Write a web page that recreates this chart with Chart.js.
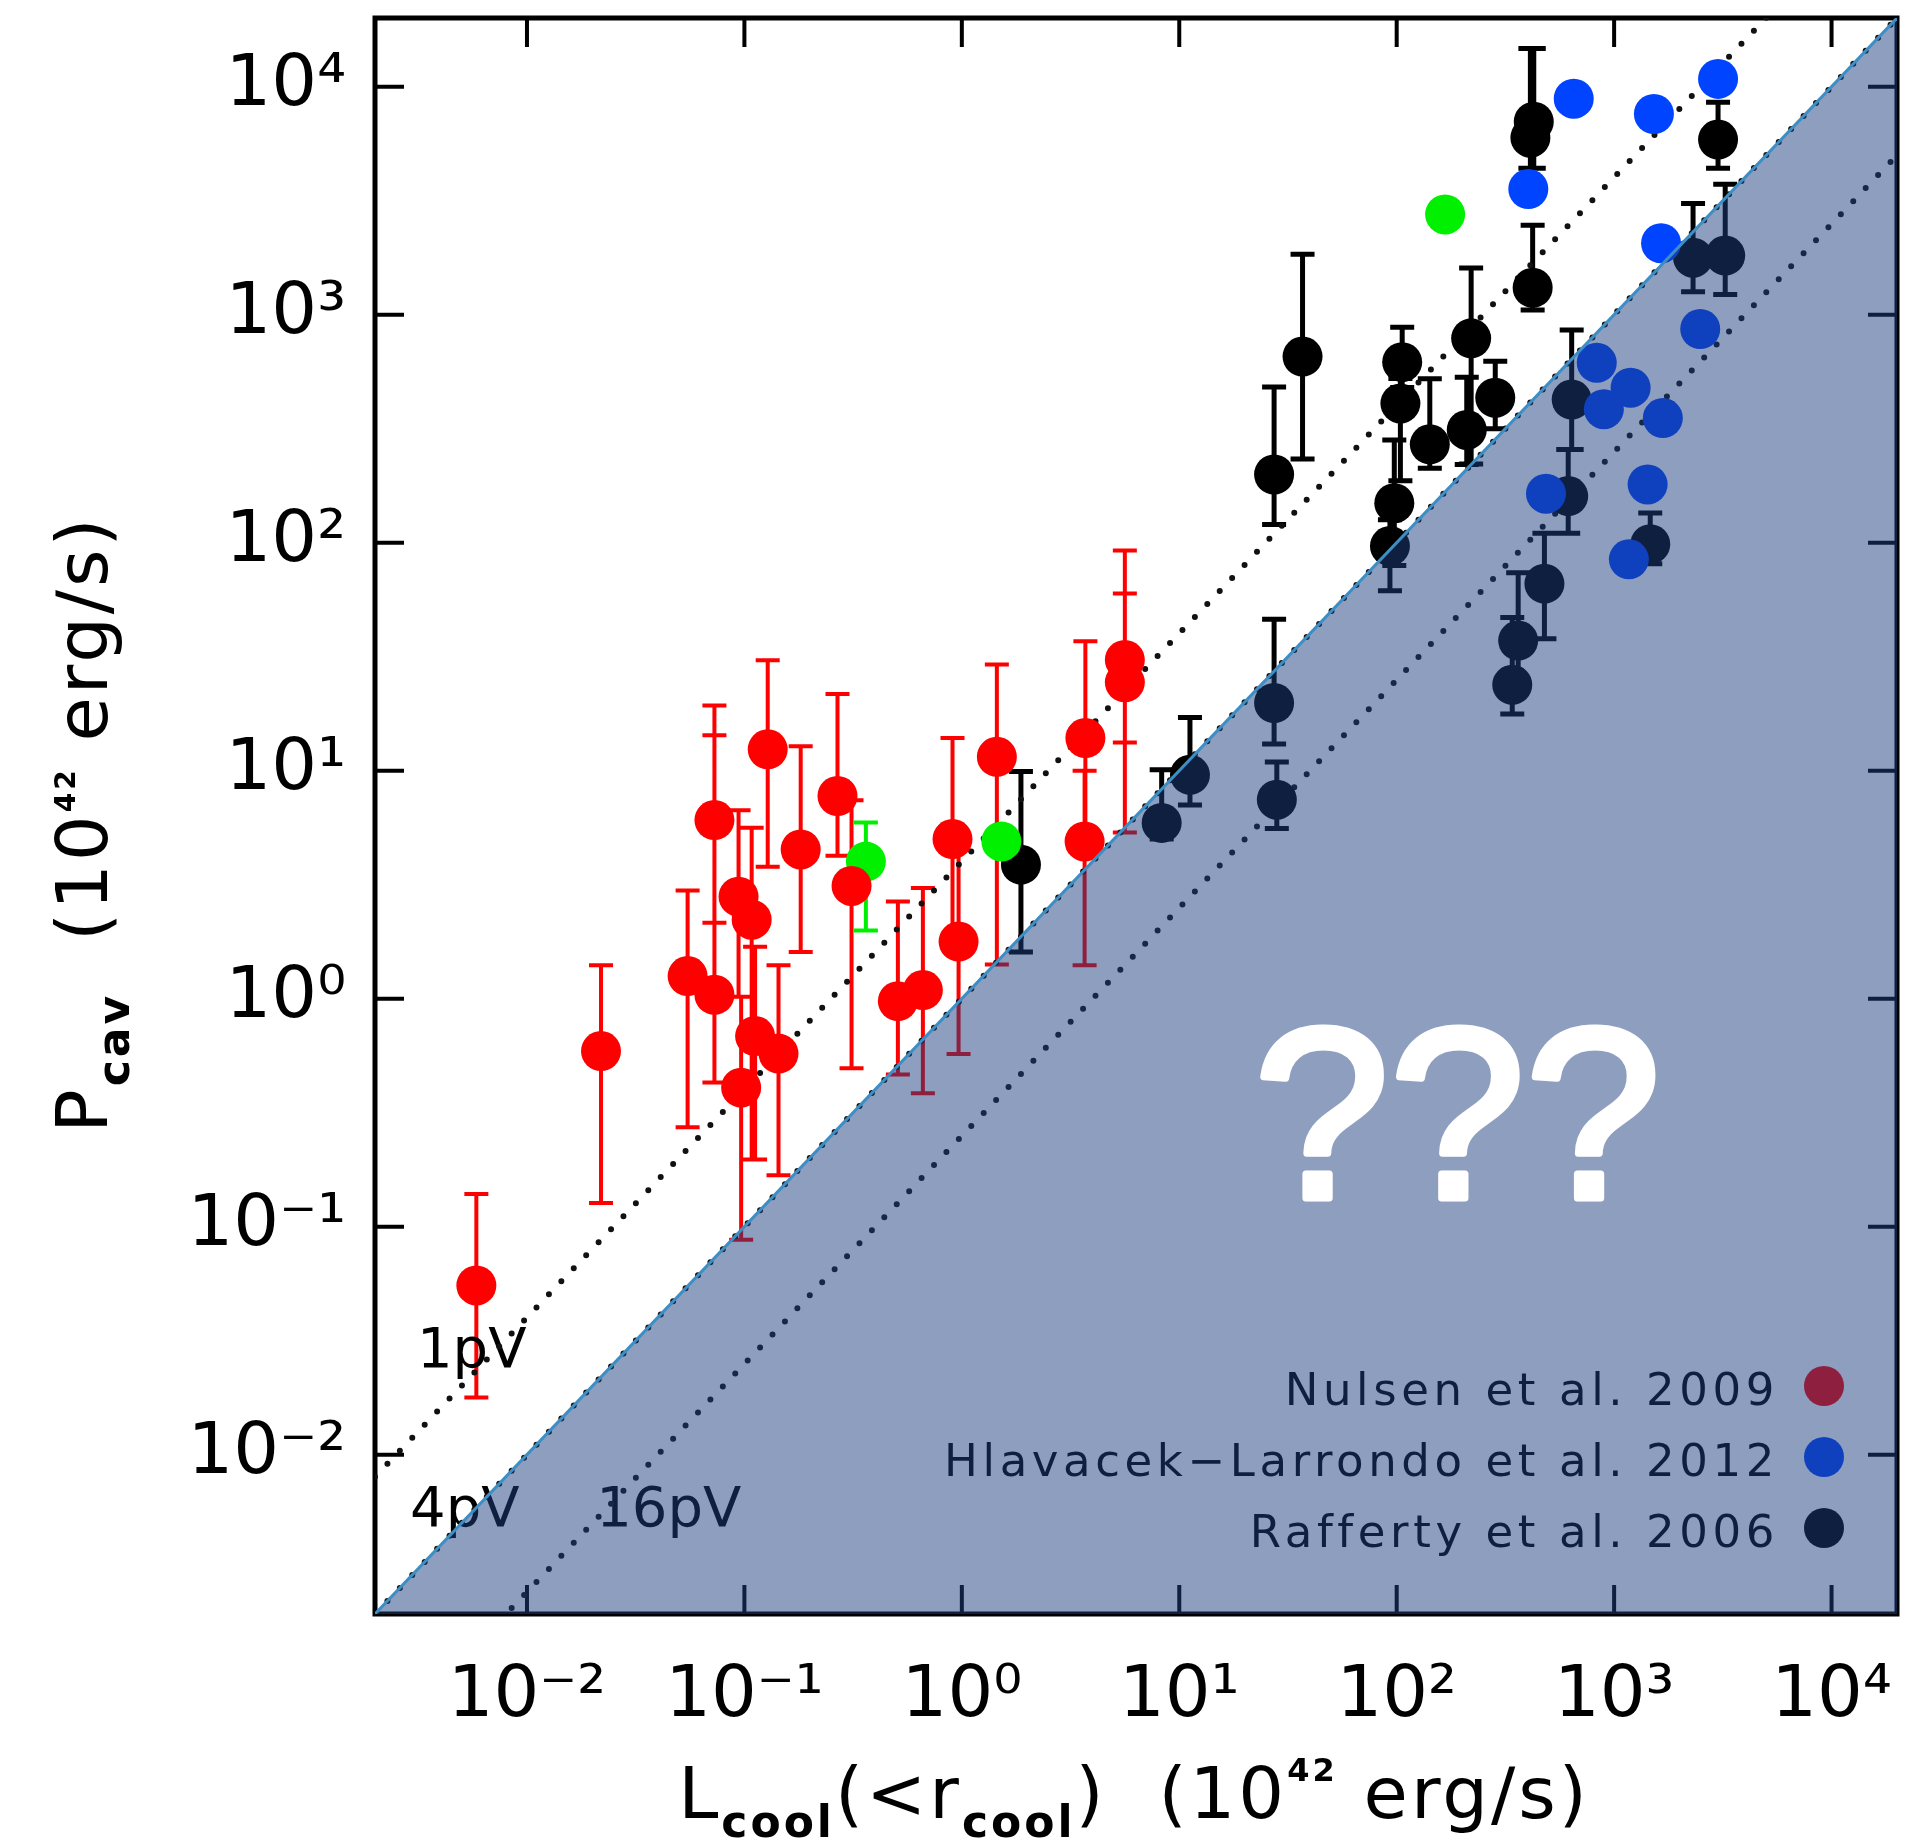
<!DOCTYPE html>
<html>
<head>
<meta charset="utf-8">
<script src="https://cdn.jsdelivr.net/npm/chart.js@4.4.1/dist/chart.umd.min.js"></script>
<style>
html,body{margin:0;padding:0;background:#ffffff;}
#wrap{position:relative;width:1906px;height:1842px;}
canvas{display:block;}
</style>
</head>
<body>
<div id="wrap"><canvas id="chart" width="1906" height="1842"></canvas></div>
<script>
// ---------------- data (units of 1e42 erg/s) ----------------
// Nulsen et al. 2009 (red)
const nulsenL  = [0.00585, 0.0219, 0.0548, 0.0728, 0.0728, 0.128, 0.094, 0.108, 0.112, 0.0966, 0.1435, 0.1815, 0.268, 0.311, 0.508, 0.662, 0.906, 0.966, 1.449, 3.70, 3.67, 5.62, 5.62];
const nulsenP  = [0.0552, 0.589, 1.256, 6.07, 1.04, 12.4, 2.80, 2.22, 0.685, 0.407, 0.574, 4.51, 7.74, 3.12, 0.975, 1.09, 5.01, 1.78, 11.5, 13.9, 4.89, 30.6, 24.4];
const nulsenLo = [0.0178, 0.127, 0.273, 2.15, 0.429, 3.79, 1.02, 0.197, 0.197, 0.0877, 0.168, 1.60, 4.23, 0.495, 0.465, 0.385, 1.78, 0.571, 1.41, 5.62, 1.40, 13.3, 5.35];
const nulsenHi = [0.139, 1.40, 2.98, 19.3, 14.3, 30.5, 6.70, 5.62, 1.69, 1.02, 1.40, 12.8, 21.7, 7.41, 2.67, 3.06, 13.9, 4.47, 29.2, 36.9, 10.0, 92.3, 59.8];

// additional systems (green, not in legend)
const otherL  = [0.362, 1.52, 167];
const otherP  = [3.99, 4.89, 2750];
const otherLo = [1.99, null, null];
const otherHi = [5.92, null, null];

// Rafferty et al. 2006 (black)
const raffL  = [1.87, 8.30, 11.2, 27.3, 28.1, 27.3, 36.9, 106, 104, 97.5, 93.1, 142, 220, 210, 284, 638, 615, 478, 362, 340, 1466, 427, 412, 422, 3006, 2307, 3243];
const raffP  = [3.87, 5.90, 9.59, 19.8, 7.46, 199, 655, 619, 408, 149, 96.6, 270, 787, 312, 432, 424, 160, 66.1, 37.2, 23.8, 98.4, 7015, 5970, 1312, 5861, 1778, 1816];
const raffLo = [1.60, 5.01, 7.06, 13.1, 5.58, 120, 233, 479, 187, 79.4, 61.5, 212, 221, 220, 316, 256, 110, 37.9, 25.1, 17.7, 80.7, 4385, 4385, 1047, 4385, 1259, 1225];
const raffHi = [9.91, 10.1, 17.1, 46.1, 10.9, 481, 1841, 881, 525, 282, 126, 524, 1600, 532, 625, 857, 256, 110, 73.8, 46.9, 135, 14690, 14690, 2466, 8551, 3069, 3733];

// Hlavacek-Larrondo et al. 2012 (blue)
const hlavL = [652, 1524, 3006, 403, 1644, 2489, 832, 1191, 897, 1675, 486, 1426, 1169];
const hlavP = [8850, 7586, 10815, 3556, 2056, 865, 615, 478, 385, 352, 164, 180, 84.5];

// axes
const axisMin = 0.002, axisMax = 20000;
const tickValues = [0.01, 0.1, 1, 10, 100, 1000, 10000];
const tickLabels = ['10\u207B\u00B2', '10\u207B\u00B9', '10\u2070', '10\u00B9', '10\u00B2', '10\u00B3', '10\u2074'];

// P = ratio * L reference lines
const pvRatios = [4, 1, 0.25];
const pvLabels = ['1pV', '4pV', '16pV'];
const pvLabelX = [0.00312, 0.0029, 0.0208];
const pvLabelY = [0.0242, 0.00486, 0.00486];

const legendNames = ['Nulsen et al. 2009', 'Hlavacek\u2212Larrondo et al. 2012', 'Rafferty et al. 2006'];
const questionText = '???';
const questionAt = [190, 0.134];

// ---------------- helpers ----------------
const FONT = '"DejaVu Sans", "Liberation Sans", sans-serif';
const pts = (xs, ys) => xs.map((x, i) => ({x: x, y: ys[i]}));
const pvLine = r => [{x: axisMin, y: axisMin * r}, {x: axisMax, y: axisMax * r}];

const errorSets = [
  {L: raffL, lo: raffLo, hi: raffHi, color: '#000000', width: 5},
  {L: otherL, lo: otherLo, hi: otherHi, color: '#00ee00', width: 4},
  {L: nulsenL, lo: nulsenLo, hi: nulsenHi, color: '#ff0000', width: 4}
];
const legendColors = ['#ff0000', '#0044ff', '#000000'];

function drawRich(ctx, parts, cx, baseY) {
  let w = 0;
  parts.forEach(p => { ctx.font = p.font; p.w = ctx.measureText(p.t).width; w += p.w; });
  let xx = cx - w / 2;
  parts.forEach(p => { ctx.font = p.font; ctx.fillText(p.t, xx, baseY + (p.dy || 0)); xx += p.w; });
}

const decor = {
  id: 'decor',
  beforeDatasetsDraw(chart) {
    const {ctx, chartArea: a, scales: {x, y}} = chart;
    ctx.save();
    // frame
    ctx.strokeStyle = '#000'; ctx.lineWidth = 5;
    ctx.strokeRect(a.left, a.top, a.right - a.left, a.bottom - a.top);
    // inward major ticks on all sides
    ctx.lineWidth = 4;
    ctx.beginPath();
    tickValues.forEach(v => {
      const px = x.getPixelForValue(v), py = y.getPixelForValue(v);
      ctx.moveTo(px, a.bottom); ctx.lineTo(px, a.bottom - 29);
      ctx.moveTo(px, a.top); ctx.lineTo(px, a.top + 29);
      ctx.moveTo(a.left, py); ctx.lineTo(a.left + 29, py);
      ctx.moveTo(a.right, py); ctx.lineTo(a.right - 29, py);
    });
    ctx.stroke();
    // clip to plot area
    ctx.beginPath(); ctx.rect(a.left, a.top, a.right - a.left, a.bottom - a.top); ctx.clip();
    // error bars
    errorSets.forEach(s => {
      ctx.strokeStyle = s.color; ctx.lineWidth = s.width; ctx.lineCap = 'butt';
      ctx.beginPath();
      s.L.forEach((l, i) => {
        if (s.lo[i] == null) return;
        const px = x.getPixelForValue(l);
        const y1 = y.getPixelForValue(s.lo[i]), y2 = y.getPixelForValue(s.hi[i]);
        ctx.moveTo(px, y1); ctx.lineTo(px, y2);
        ctx.moveTo(px - 12, y1); ctx.lineTo(px + 12, y1);
        ctx.moveTo(px - 12, y2); ctx.lineTo(px + 12, y2);
      });
      ctx.stroke();
    });
    // pV labels
    ctx.fillStyle = '#000'; ctx.font = '56px ' + FONT;
    ctx.textAlign = 'left'; ctx.textBaseline = 'alphabetic';
    pvLabels.forEach((t, i) => ctx.fillText(t, x.getPixelForValue(pvLabelX[i]), y.getPixelForValue(pvLabelY[i])));
    // legend (inside plot, lower right)
    ctx.font = '45px ' + FONT;
    ctx.letterSpacing = '4.6px';
    ctx.textAlign = 'right';
    legendNames.forEach((t, i) => {
      const by = a.bottom - 209 + i * 71;
      ctx.fillStyle = '#000';
      ctx.fillText(t, a.right - 118, by);
      ctx.fillStyle = legendColors[i];
      ctx.beginPath(); ctx.arc(a.right - 73, by - 19, 20, 0, Math.PI * 2); ctx.fill();
    });
    ctx.restore();
  },
  afterDatasetsDraw(chart) {
    const {ctx, scales: {x, y}} = chart;
    ctx.save();
    ctx.font = '244px "Liberation Sans", Arial, sans-serif';
    ctx.textAlign = 'center'; ctx.textBaseline = 'alphabetic';
    ctx.fillStyle = '#ffffff'; ctx.strokeStyle = '#ffffff'; ctx.lineWidth = 7; ctx.lineJoin = 'round';
    const qx = x.getPixelForValue(questionAt[0]), qy = y.getPixelForValue(questionAt[1]);
    ctx.fillText(questionText, qx, qy);
    ctx.strokeText(questionText, qx, qy);
    ctx.restore();
  },
  afterDraw(chart) {
    const {ctx, chartArea: a} = chart;
    ctx.save();
    ctx.fillStyle = '#000'; ctx.textAlign = 'left'; ctx.textBaseline = 'alphabetic';
    ctx.letterSpacing = '3px';
    const main = '72px ' + FONT, sub = 'bold 44px ' + FONT;
    // x title
    drawRich(ctx, [
      {t: 'L', font: main}, {t: 'cool', font: sub, dy: 19},
      {t: '(<r', font: main}, {t: 'cool', font: sub, dy: 19},
      {t: ')  (10', font: main}, {t: '42', font: 'bold 32px ' + FONT, dy: -37},
      {t: ' erg/s)', font: main}
    ], (a.left + a.right) / 2 - 2, 1818);
    // y title (rotated)
    ctx.translate(107, (a.top + a.bottom) / 2 + 8);
    ctx.rotate(-Math.PI / 2);
    drawRich(ctx, [
      {t: 'P', font: main}, {t: 'cav', font: sub, dy: 22},
      {t: '  (10', font: main}, {t: '42', font: 'bold 28px ' + FONT, dy: -32},
      {t: ' erg/s)', font: main}
    ], 0, 0);
    ctx.restore();
  }
};

const tickFont = {family: '"DejaVu Sans", sans-serif', size: 72};
const labelFor = v => {
  const i = tickValues.findIndex(t => Math.abs(Math.log10(t) - Math.log10(v)) < 1e-6);
  return i >= 0 ? tickLabels[i] : '';
};

new Chart(document.getElementById('chart'), {
  type: 'scatter',
  data: {
    datasets: [
      {type: 'line', label: '4pV region', data: pvLine(pvRatios[1]), fill: 'start',
       backgroundColor: 'rgba(30,62,126,0.5)', borderColor: '#3d8ec4', borderWidth: 3,
       pointRadius: 0, order: 0},
      {type: 'scatter', label: legendNames[1], data: pts(hlavL, hlavP),
       backgroundColor: '#0044ff', borderWidth: 0, pointRadius: 20, order: 1},
      {type: 'scatter', label: legendNames[0], data: pts(nulsenL, nulsenP),
       backgroundColor: '#ff0000', borderWidth: 0, pointRadius: 20, order: 2},
      {type: 'scatter', label: 'other', data: pts(otherL, otherP),
       backgroundColor: '#00f000', borderWidth: 0, pointRadius: 20, order: 3},
      {type: 'scatter', label: legendNames[2], data: pts(raffL, raffP),
       backgroundColor: '#000000', borderWidth: 0, pointRadius: 20, order: 4},
      ...pvRatios.map((r, i) => ({
        type: 'line', label: pvLabels[i], data: pvLine(r), fill: false,
        borderColor: '#111111', borderWidth: 6, borderDash: [0, 18], borderCapStyle: 'round',
        pointRadius: 0, order: 10 + i
      }))
    ]
  },
  options: {
    responsive: false,
    devicePixelRatio: 1,
    animation: false,
    events: [],
    layout: {autoPadding: false, padding: {top: 18, right: 9, bottom: 0, left: 0}},
    plugins: {legend: {display: false}, tooltip: {enabled: false}, title: {display: false}},
    scales: {
      x: {
        type: 'logarithmic', position: 'bottom', min: axisMin, max: axisMax,
        afterBuildTicks: s => { s.ticks = tickValues.map(v => ({value: v})); },
        afterFit: s => { s.height = 228; s.paddingLeft = 0; s.paddingRight = 0; },
        ticks: {callback: v => labelFor(v), font: tickFont, color: '#000', padding: 40,
                maxRotation: 0, minRotation: 0, autoSkip: false},
        grid: {display: false, drawTicks: false},
        border: {display: false},
        title: {display: false}
      },
      y: {
        type: 'logarithmic', position: 'left', min: axisMin, max: axisMax,
        afterBuildTicks: s => { s.ticks = tickValues.map(v => ({value: v})); },
        afterFit: s => { s.width = 375; s.paddingTop = 0; s.paddingBottom = 0; },
        ticks: {callback: v => labelFor(v), font: tickFont, color: '#000', padding: 29, autoSkip: false},
        grid: {display: false, drawTicks: false},
        border: {display: false},
        title: {display: false}
      }
    }
  },
  plugins: [decor]
});
</script>
</body>
</html>
